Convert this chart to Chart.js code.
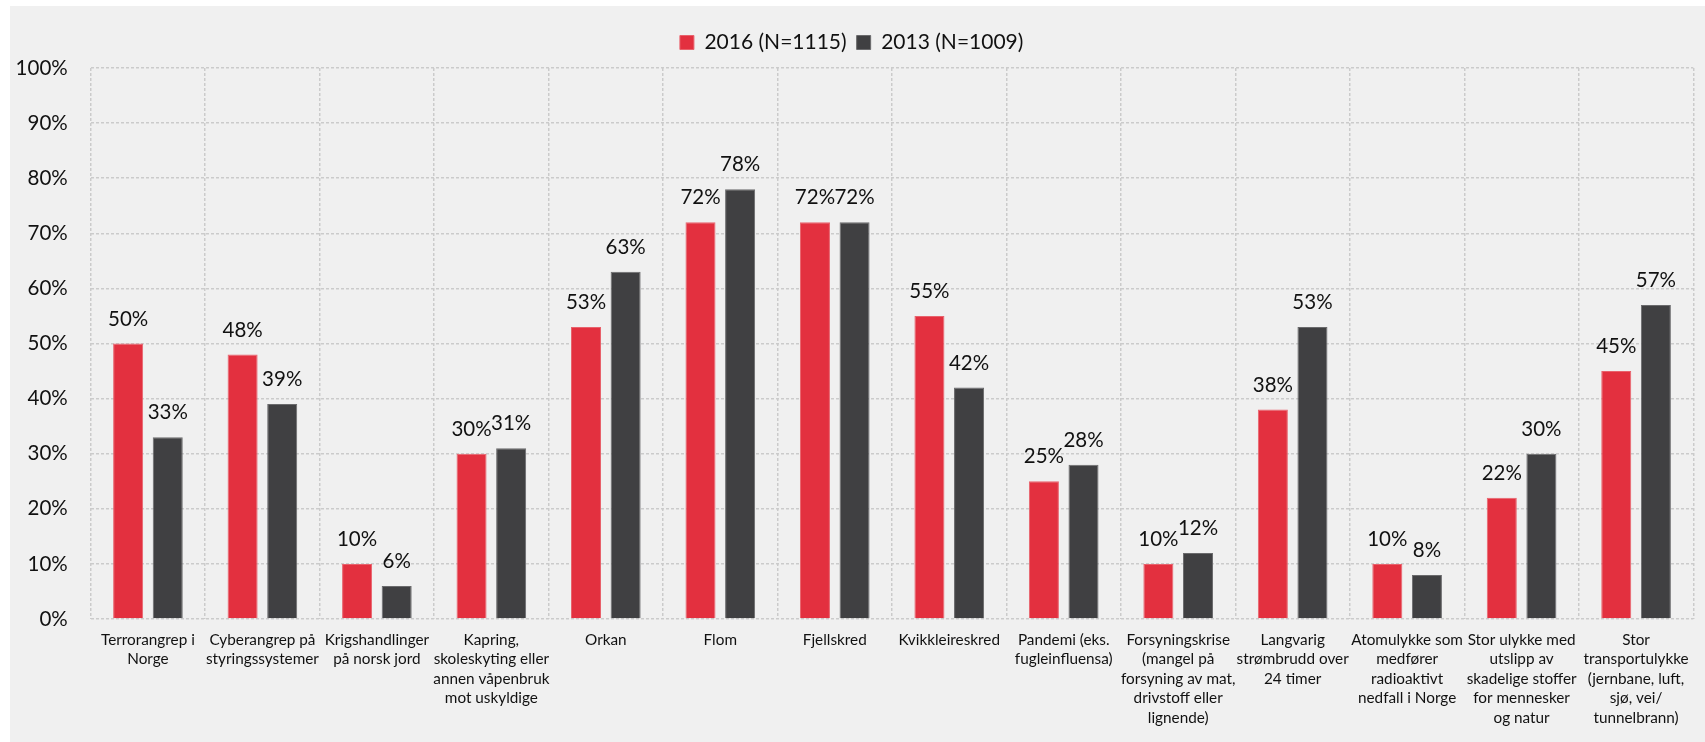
<!DOCTYPE html>
<html lang="no">
<head>
<meta charset="utf-8">
<title>Risiko - 2016 vs 2013</title>
<script src="https://cdn.jsdelivr.net/npm/chart.js@4/dist/chart.umd.min.js"></script>
<style>
  html, body { margin: 0; padding: 0; background: #ffffff; }
  .chart-container {
    position: absolute;
    left: 10px;
    top: 6px;
    width: 1695px;
    height: 736px;
    background: #f0f0f0;
  }
</style>
</head>
<body>
<div class="chart-container">
  <canvas id="chart"></canvas>
</div>
<script>
// kategorier (linjeskift som i originalen)
const categories = [
  ["Terrorangrep i", "Norge"],
  ["Cyberangrep på", "styringssystemer"],
  ["Krigshandlinger", "på norsk jord"],
  ["Kapring,", "skoleskyting eller", "annen våpenbruk", "mot uskyldige"],
  ["Orkan"],
  ["Flom"],
  ["Fjellskred"],
  ["Kvikkleireskred"],
  ["Pandemi (eks.", "fugleinfluensa)"],
  ["Forsyningskrise", "(mangel på", "forsyning av mat,", "drivstoff eller", "lignende)"],
  ["Langvarig", "strømbrudd over", "24 timer"],
  ["Atomulykke som", "medfører", "radioaktivt", "nedfall i Norge"],
  ["Stor ulykke med", "utslipp av", "skadelige stoffer", "for mennesker", "og natur"],
  ["Stor", "transportulykke", "(jernbane, luft,", "sjø, vei/", "tunnelbrann)"]
];

const values2016 = [50, 48, 10, 30, 53, 72, 72, 55, 25, 10, 38, 10, 22, 45];
const values2013 = [33, 39, 6, 31, 63, 78, 72, 42, 28, 12, 53, 8, 30, 57];

const seriesNames = ["2016 (N=1115)", "2013 (N=1009)"];
const yTicks = [0, 10, 20, 30, 40, 50, 60, 70, 80, 90, 100];

const FONT = "Lato, 'Open Sans', 'Liberation Sans', sans-serif";
const TEXT = "#111111";
const GRID = "#cbcbcb";

// prosent over hver stolpe (ingen datalabels-plugin tilgjengelig)
const barLabels = {
  id: "barLabels",
  afterDatasetsDraw(chart) {
    const ctx = chart.ctx;
    ctx.save();
    ctx.font = "20.5px " + FONT;
    ctx.fillStyle = TEXT;
    ctx.textAlign = "center";
    ctx.textBaseline = "alphabetic";
    chart.data.datasets.forEach((ds, i) => {
      chart.getDatasetMeta(i).data.forEach((bar, j) => {
        ctx.fillText(ds.data[j] + "%", bar.x, bar.y - 18);
      });
    });
    ctx.restore();
  }
};

// litt ekstra luft under legenden
const legendGap = {
  id: "legendGap",
  beforeInit(chart) {
    const fit = chart.legend.fit;
    chart.legend.fit = function () {
      fit.bind(chart.legend)();
      this.height += 5;
    };
  }
};

const ctx = document.getElementById("chart").getContext("2d");
new Chart(ctx, {
  type: "bar",
  data: {
    labels: categories,
    datasets: [
      {
        label: seriesNames[0],
        data: values2016,
        backgroundColor: "#e3303f",
        borderColor: "#e8626c",
        borderWidth: 1,
        categoryPercentage: 0.692,
        barPercentage: 0.758
      },
      {
        label: seriesNames[1],
        data: values2013,
        backgroundColor: "#404042",
        borderColor: "#6a6a6c",
        borderWidth: 1,
        categoryPercentage: 0.692,
        barPercentage: 0.758
      }
    ]
  },
  options: {
    responsive: true,
    maintainAspectRatio: false,
    animation: false,
    layout: { padding: { top: 16, left: 0, right: 11.7, bottom: 0 } },
    plugins: {
      legend: {
        position: "top",
        labels: {
          boxWidth: 14,
          boxHeight: 14,
          padding: 10,
          color: TEXT,
          font: { family: FONT, size: 21 }
        }
      },
      tooltip: { enabled: false }
    },
    scales: {
      x: {
        grid: { color: GRID, lineWidth: 1.5, drawTicks: false },
        border: { display: false, dash: [3, 2] },
        ticks: {
          color: TEXT,
          font: { family: FONT, size: 15.3, lineHeight: 1.28 },
          padding: 11,
          autoSkip: false,
          maxRotation: 0,
          minRotation: 0
        },
        afterFit(scale) { scale.height = 123; }
      },
      y: {
        min: 0,
        max: 100,
        afterBuildTicks(scale) { scale.ticks = yTicks.map(v => ({ value: v })); },
        grid: { color: GRID, lineWidth: 1.5, drawTicks: false },
        border: { display: false, dash: [3, 2] },
        ticks: {
          color: TEXT,
          font: { family: FONT, size: 20.5 },
          padding: 23,
          callback: (v) => v + "%"
        },
        afterFit(scale) { scale.width = 80.7; }
      }
    }
  },
  plugins: [barLabels, legendGap]
});
</script>
</body>
</html>
